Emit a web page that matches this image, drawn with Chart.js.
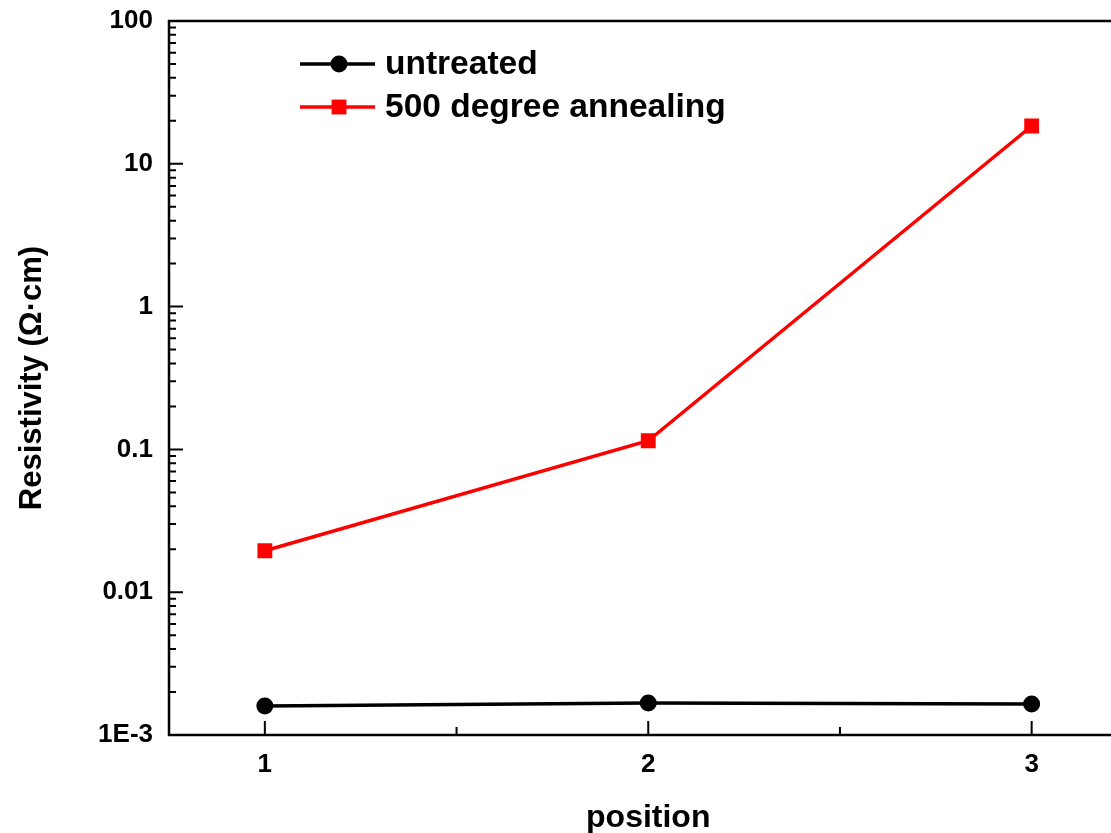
<!DOCTYPE html>
<html><head><meta charset="utf-8">
<script src="https://cdn.jsdelivr.net/npm/chart.js@4.4.0/dist/chart.umd.min.js"></script>
<style>
html,body{margin:0;padding:0;background:#fff;overflow:hidden;width:1111px;height:833px}
#wrap{position:absolute;left:0;top:0;width:1138px;height:833px}
</style>
</head><body><div id="wrap"><canvas id="c" width="1138" height="833"></canvas></div>
<script>
const positions = [1, 2, 3];
const untreated = [1.596e-3, 1.675e-3, 1.65e-3];
const annealed = [0.0195, 0.115, 18.4];
const seriesLabels = ["untreated", "500 degree annealing"];
const yTickValues = [1e-3, 0.01, 0.1, 1, 10, 100];
const yTickLabels = ["1E-3", "0.01", "0.1", "1", "10", "100"];
const xTickValues = [1, 2, 3];
const xTickLabels = ["1", "2", "3"];
const xMinorValues = [1.5, 2.5];
const yMinorMultipliers = [2, 3, 4, 5, 6, 7, 8, 9];

const FONT = "'Liberation Sans', Arial, Helvetica, sans-serif";

const axesPlugin = {
  id: 'axesPlugin',
  afterDraw(chart) {
    const ctx = chart.ctx;
    const a = chart.chartArea;
    const xs = chart.scales.x, ys = chart.scales.y;
    ctx.save();
    ctx.strokeStyle = '#000';
    ctx.lineCap = 'butt';
    ctx.lineWidth = 2.5;
    ctx.beginPath();
    ctx.moveTo(a.left, a.top); ctx.lineTo(a.right, a.top);
    ctx.moveTo(a.left, a.top - 1.25); ctx.lineTo(a.left, a.bottom + 1.25);
    ctx.moveTo(a.left, a.bottom); ctx.lineTo(a.right, a.bottom);
    ctx.stroke();
    ctx.lineWidth = 2;
    ctx.beginPath();
    yTickValues.forEach((v, i) => {
      const py = ys.getPixelForValue(v);
      ctx.moveTo(a.left, py); ctx.lineTo(a.left + 14, py);
      if (i < yTickValues.length - 1) {
        yMinorMultipliers.forEach(m => {
          const qy = ys.getPixelForValue(v * m);
          ctx.moveTo(a.left, qy); ctx.lineTo(a.left + 7, qy);
        });
      }
    });
    xTickValues.forEach(v => {
      const px = xs.getPixelForValue(v);
      ctx.moveTo(px, a.bottom); ctx.lineTo(px, a.bottom - 14);
    });
    xMinorValues.forEach(v => {
      const px = xs.getPixelForValue(v);
      ctx.moveTo(px, a.bottom); ctx.lineTo(px, a.bottom - 8);
    });
    ctx.stroke();

    // legend
    const ds = chart.data.datasets;
    const lx0 = 300, lx1 = 375, mx = 339, tx = 385;
    const rows = [64, 107];
    ds.forEach((d, i) => {
      const y = rows[i];
      ctx.strokeStyle = d.borderColor;
      ctx.lineWidth = d.borderWidth;
      ctx.beginPath(); ctx.moveTo(lx0, y); ctx.lineTo(lx1, y); ctx.stroke();
      ctx.fillStyle = d.backgroundColor;
      Chart.helpers.drawPoint(ctx, {pointStyle: d.pointStyle, radius: d.pointRadius, borderWidth: 0}, mx, y);
      ctx.fillStyle = '#000';
      ctx.font = "bold 33.5px " + FONT;
      ctx.textAlign = 'left';
      ctx.textBaseline = 'middle';
      ctx.fillText(d.label, tx, y + 1);
    });
    ctx.restore();
  }
};

new Chart(document.getElementById('c').getContext('2d'), {
  type: 'line',
  data: {
    datasets: [
      {
        label: seriesLabels[0],
        data: positions.map((x, i) => ({x, y: untreated[i]})),
        borderColor: '#000', backgroundColor: '#000', borderWidth: 3.5,
        pointStyle: 'circle', pointRadius: 8.5, pointBorderWidth: 0,
        pointBackgroundColor: '#000', tension: 0
      },
      {
        label: seriesLabels[1],
        data: positions.map((x, i) => ({x, y: annealed[i]})),
        borderColor: '#ff0000', backgroundColor: '#ff0000', borderWidth: 3.5,
        pointStyle: 'rect', pointRadius: 10.5, pointBorderWidth: 0,
        pointBackgroundColor: '#ff0000', tension: 0
      }
    ]
  },
  options: {
    responsive: false,
    animation: false,
    devicePixelRatio: 1,
    layout: {padding: {top: 21, right: 10, left: 0, bottom: 0}},
    plugins: {legend: {display: false}, tooltip: {enabled: false}},
    scales: {
      x: {
        type: 'linear', min: 0.75, max: 3.25,
        afterBuildTicks: s => { s.ticks = xTickValues.map(v => ({value: v})); },
        afterFit: s => { s.height = 98; s.paddingLeft = 0; s.paddingRight = 0; },
        ticks: {
          autoSkip: false, maxRotation: 0, padding: 14, color: '#000',
          font: {family: FONT, size: 26, weight: 'bold'},
          callback: v => { const i = xTickValues.indexOf(v); return i >= 0 ? xTickLabels[i] : ''; }
        },
        grid: {display: false, drawTicks: false},
        border: {display: false},
        title: {display: true, text: 'position', color: '#000', padding: {top: -4, bottom: -4},
          font: {family: FONT, size: 32, weight: 'bold'}}
      },
      y: {
        type: 'logarithmic', min: 1e-3, max: 100,
        afterBuildTicks: s => { s.ticks = yTickValues.map(v => ({value: v, major: true})); },
        afterFit: s => { s.width = 169; s.paddingTop = 0; s.paddingBottom = 0; },
        ticks: {
          autoSkip: false, padding: 16, color: '#000',
          font: {family: FONT, size: 26, weight: 'bold'},
          callback: v => {
            const i = yTickValues.findIndex(t => Math.abs(Math.log10(t) - Math.log10(v)) < 1e-6);
            return i >= 0 ? yTickLabels[i] : '';
          }
        },
        grid: {display: false, drawTicks: false},
        border: {display: false},
        title: {display: true, text: 'Resistivity (\u03A9\u00B7cm)', color: '#000', padding: {top: 14, bottom: 0},
          font: {family: FONT, size: 31, weight: 'bold'}}
      }
    }
  },
  plugins: [axesPlugin]
});
</script>
</body></html>
